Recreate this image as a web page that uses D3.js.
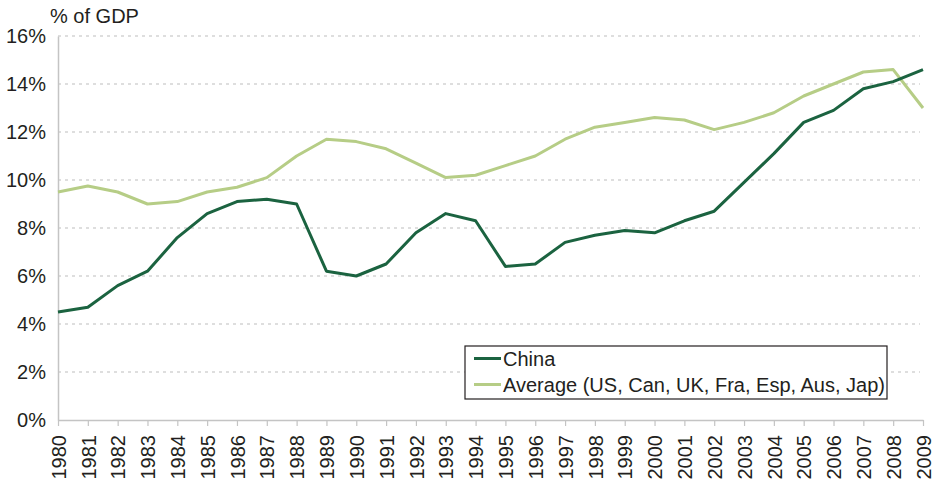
<!DOCTYPE html>
<html>
<head>
<meta charset="utf-8">
<script src="https://cdn.jsdelivr.net/npm/d3@7"></script>
<style>
  body { margin: 0; background: #fff; }
  text { font-family: "Liberation Sans", Arial, sans-serif; fill: #231f20; }
</style>
</head>
<body>
<div id="chart"></div>
<script>
// data
var years = d3.range(1980, 2010);
var china = [4.5, 4.7, 5.6, 6.2, 7.6, 8.6, 9.1, 9.2, 9.0, 6.2,
             6.0, 6.5, 7.8, 8.6, 8.3, 6.4, 6.5, 7.4, 7.7, 7.9,
             7.8, 8.3, 8.7, 9.9, 11.1, 12.4, 12.9, 13.8, 14.1, 14.6];
var average = [9.5, 9.75, 9.5, 9.0, 9.1, 9.5, 9.7, 10.1, 11.0, 11.7,
               11.6, 11.3, 10.7, 10.1, 10.2, 10.6, 11.0, 11.7, 12.2, 12.4,
               12.6, 12.5, 12.1, 12.4, 12.8, 13.5, 14.0, 14.5, 14.6, 13.0];
var yTicks = [0, 2, 4, 6, 8, 10, 12, 14, 16];
var seriesNames = ["China", "Average (US, Can, UK, Fra, Esp, Aus, Jap)"];
var seriesColors = ["#1b6340", "#b6cd86"];

var margin = { top: 36, right: 13, bottom: 62, left: 58 },
    width = 936 - margin.left - margin.right,
    height = 482 - margin.top - margin.bottom;

var svg = d3.select("#chart")
    .append("svg")
    .attr("width", 936)
    .attr("height", 482)
    .append("g")
    .attr("transform", "translate(" + margin.left + "," + margin.top + ")");

var x = d3.scaleLinear().domain([1980, 2009]).range([0, width]);
var y = d3.scaleLinear().domain([0, 16]).range([height, 0]);

// gridlines
svg.selectAll("grid")
    .data(yTicks.filter(function (d) { return d > 0; }))
    .enter()
    .append("line")
    .attr("x1", 0)
    .attr("x2", width - 3)
    .attr("y1", function (d) { return y(d); })
    .attr("y2", function (d) { return y(d); })
    .attr("stroke", "#bdbdbd")
    .attr("stroke-width", 1)
    .attr("stroke-dasharray", "3 4");

// y axis
var yAxis = svg.append("g")
    .call(d3.axisLeft(y).tickValues(yTicks).tickSize(0).tickPadding(12)
        .tickFormat(function (d) { return d + "%"; }));
yAxis.select(".domain").attr("stroke", "#c4c4c4").attr("stroke-width", 1.5);
yAxis.selectAll("text").style("font-size", "20px").attr("fill", "#231f20");

// x axis
var xAxis = svg.append("g")
    .attr("transform", "translate(0," + height + ")")
    .call(d3.axisBottom(x).tickValues(years).tickSize(6).tickSizeOuter(0)
        .tickFormat(d3.format("d")));
xAxis.select(".domain").attr("stroke", "#c4c4c4").attr("stroke-width", 1.5);
xAxis.selectAll(".tick line").attr("stroke", "#c4c4c4").attr("stroke-width", 1.2);
xAxis.selectAll("text")
    .style("font-size", "20px")
    .attr("fill", "#231f20")
    .attr("text-anchor", "end")
    .attr("transform", "rotate(-90)")
    .attr("x", -15)
    .attr("y", 0)
    .attr("dy", "0.36em");

// y label
svg.append("text")
    .attr("x", -8)
    .attr("y", -13)
    .style("font-size", "20px")
    .text("% of GDP");

// lines
var line = d3.line()
    .x(function (d, i) { return x(years[i]); })
    .y(function (d) { return y(d); });

[average, china].forEach(function (s, k) {
    svg.append("path")
        .datum(s)
        .attr("fill", "none")
        .attr("stroke", k === 0 ? seriesColors[1] : seriesColors[0])
        .attr("stroke-width", 3)
        .attr("stroke-linejoin", "round")
        .attr("d", line);
});

// legend
var legend = svg.append("g")
    .attr("transform", "translate(" + (465 - margin.left) + "," + (346 - margin.top) + ")");
legend.append("rect")
    .attr("width", 422)
    .attr("height", 53)
    .attr("fill", "#fff")
    .attr("stroke", "#231f20")
    .attr("stroke-width", 1.2);
seriesNames.forEach(function (name, i) {
    var cy = 12.5 + i * 26;
    legend.append("line")
        .attr("x1", 9).attr("x2", 36)
        .attr("y1", cy).attr("y2", cy)
        .attr("stroke", seriesColors[i])
        .attr("stroke-width", 3);
    legend.append("text")
        .attr("x", 38)
        .attr("y", cy)
        .attr("dy", "0.36em")
        .style("font-size", "20px")
        .text(name);
});
</script>
</body>
</html>
